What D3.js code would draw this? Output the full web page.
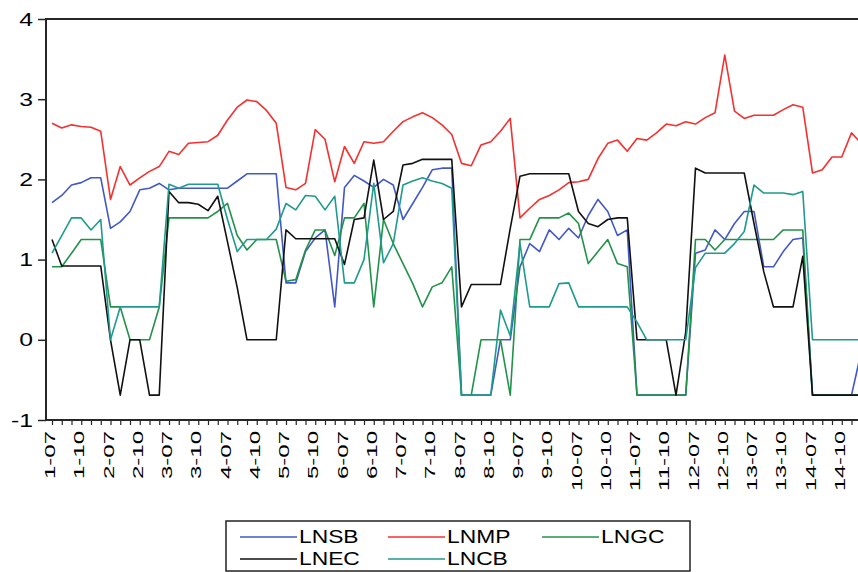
<!DOCTYPE html>
<html>
<head>
<meta charset="utf-8">
<script src="https://cdn.jsdelivr.net/npm/d3@7"></script>
<style>
  body { margin: 0; background: #fff; }
  text { font-family: "Liberation Sans", Arial, sans-serif; fill: #000; }
</style>
</head>
<body>
<div id="chart"></div>
<script>
const width = 858;
const height = 572;

// observation labels: day-hour, six hours a day
const days = d3.range(1, 15);
const hours = ["07", "08", "09", "10", "11", "12"];
const labelHours = ["07", "10"];
const yTicks = [-1, 0, 1, 2, 3, 4];

const LNSB = [1.71, 1.80, 1.93, 1.96, 2.02, 2.02, 1.39, 1.47, 1.60, 1.87, 1.89, 1.95,
  1.87, 1.89, 1.89, 1.89, 1.89, 1.89, 1.89, 1.98, 2.07, 2.07, 2.07, 2.07,
  0.71, 0.71, 1.10, 1.27, 1.37, 0.41, 1.90, 2.05, 1.98, 1.90, 2.00, 1.93,
  1.50, 1.70, 1.90, 2.12, 2.14, 2.14, -0.69, -0.69, -0.69, -0.69, 0, 0,
  0.91, 1.20, 1.10, 1.37, 1.25, 1.39, 1.27, 1.55, 1.75, 1.60, 1.30, 1.37,
  -0.69, -0.69, -0.69, -0.69, -0.69, -0.69, 1.08, 1.12, 1.37, 1.25, 1.45, 1.60,
  1.60, 0.91, 0.91, 1.10, 1.25, 1.27, -0.69, -0.69, -0.69, -0.69, -0.69, -0.15];
const LNMP = [2.70, 2.64, 2.68, 2.66, 2.65, 2.60, 1.75, 2.16, 1.93, 2.02, 2.10, 2.16,
  2.35, 2.31, 2.45, 2.46, 2.47, 2.55, 2.74, 2.90, 2.99, 2.97, 2.86, 2.70,
  1.90, 1.87, 1.95, 2.62, 2.50, 1.97, 2.41, 2.20, 2.47, 2.45, 2.47, 2.60,
  2.72, 2.78, 2.83, 2.77, 2.68, 2.56, 2.20, 2.17, 2.43, 2.47, 2.60, 2.76,
  1.52, 1.64, 1.75, 1.80, 1.87, 1.96, 1.97, 2.00, 2.26, 2.45, 2.49, 2.35,
  2.51, 2.49, 2.58, 2.69, 2.67, 2.72, 2.69, 2.77, 2.83, 3.55, 2.85, 2.76,
  2.80, 2.80, 2.80, 2.87, 2.93, 2.90, 2.08, 2.12, 2.28, 2.28, 2.58, 2.45];
const LNGC = [0.91, 0.91, 1.08, 1.25, 1.25, 1.25, 0.41, 0.41, 0, 0, 0, 0.41,
  1.52, 1.52, 1.52, 1.52, 1.52, 1.60, 1.70, 1.30, 1.12, 1.25, 1.25, 1.25,
  0.73, 0.75, 1.12, 1.37, 1.37, 1.05, 1.52, 1.52, 1.70, 0.41, 1.50, 1.20,
  0.95, 0.70, 0.41, 0.66, 0.71, 0.91, -0.69, -0.69, 0, 0, 0, -0.69,
  1.25, 1.25, 1.52, 1.52, 1.52, 1.58, 1.45, 0.95, 1.10, 1.25, 0.95, 0.91,
  -0.69, -0.69, -0.69, -0.69, -0.69, -0.69, 1.25, 1.25, 1.12, 1.25, 1.25, 1.25,
  1.25, 1.25, 1.25, 1.37, 1.37, 1.37, -0.69, -0.69, -0.69, -0.69, -0.69, -0.69];
const LNEC = [1.25, 0.92, 0.92, 0.92, 0.92, 0.92, 0, -0.69, 0, 0, -0.69, -0.69,
  1.85, 1.71, 1.71, 1.69, 1.61, 1.79, 1.22, 0.65, 0, 0, 0, 0,
  1.37, 1.26, 1.26, 1.26, 1.26, 1.26, 0.94, 1.50, 1.52, 2.24, 1.50, 1.60,
  2.18, 2.20, 2.25, 2.25, 2.25, 2.25, 0.41, 0.69, 0.69, 0.69, 0.69, 1.39,
  2.04, 2.07, 2.07, 2.07, 2.07, 2.07, 1.60, 1.45, 1.41, 1.50, 1.52, 1.52,
  0, 0, 0, 0, -0.69, 0.10, 2.14, 2.08, 2.08, 2.08, 2.08, 2.08,
  1.45, 0.85, 0.41, 0.41, 0.41, 1.04, -0.69, -0.69, -0.69, -0.69, -0.69, -0.69];
const LNCB = [1.08, 1.30, 1.52, 1.52, 1.37, 1.50, 0, 0.41, 0.41, 0.41, 0.41, 0.41,
  1.94, 1.89, 1.94, 1.94, 1.94, 1.94, 1.50, 1.10, 1.25, 1.25, 1.25, 1.38,
  1.70, 1.62, 1.80, 1.79, 1.62, 1.79, 0.71, 0.71, 1.00, 1.95, 0.96, 1.20,
  1.93, 1.98, 2.02, 1.98, 1.95, 1.89, -0.69, -0.69, -0.69, -0.69, 0.37, 0.05,
  1.20, 0.41, 0.41, 0.41, 0.70, 0.71, 0.41, 0.41, 0.41, 0.41, 0.41, 0.41,
  0.22, 0, 0, 0, 0, 0, 0.90, 1.08, 1.08, 1.08, 1.20, 1.35,
  1.93, 1.83, 1.83, 1.83, 1.81, 1.85, 0, 0, 0, 0, 0, 0];

const names = ["LNSB", "LNMP", "LNGC", "LNEC", "LNCB"];
const values = [LNSB, LNMP, LNGC, LNEC, LNCB];
const colors = ["#4258c6", "#f5302f", "#22924a", "#111111", "#1f9a8e"];

const obsLabels = days.flatMap((d) => hours.map((h) => `${d}-${h}`));

const svg = d3
  .select("#chart")
  .append("svg")
  .attr("width", width)
  .attr("height", height);

const x = d3.scaleLinear().domain([0, obsLabels.length - 1]).range([52, 861.25]);
const y = d3.scaleLinear().domain([-1, 4]).range([420, 19]);

// series lines
const line = d3
  .line()
  .x((d, i) => x(i))
  .y((d) => y(d));

svg
  .append("g")
  .selectAll("path")
  .data(values)
  .enter()
  .append("path")
  .attr("d", line)
  .attr("fill", "none")
  .attr("stroke", (d, i) => colors[i])
  .attr("stroke-width", 1.6)
  .attr("stroke-linejoin", "round");

// frame (right side runs off the picture)
svg
  .append("rect")
  .attr("x", 46)
  .attr("y", 19)
  .attr("width", 830)
  .attr("height", 401)
  .attr("fill", "none")
  .attr("stroke", "#262626")
  .attr("stroke-width", 2);

// y axis
const yAxis = svg
  .append("g")
  .attr("transform", "translate(46,0)")
  .call(d3.axisLeft(y).tickValues(yTicks).tickSize(8).tickPadding(5).tickFormat((d) => String(d)));
yAxis.select(".domain").remove();
yAxis.selectAll("line").attr("stroke", "#262626").attr("stroke-width", 1.5);
yAxis
  .selectAll("text")
  .style("font-size", "19px")
  .style("font-family", "Liberation Sans, Arial, sans-serif")
  .each(function () {
    const w = this.getComputedTextLength();
    d3.select(this).attr("textLength", w * 1.3).attr("lengthAdjust", "spacingAndGlyphs");
  });

// x axis: a tick per observation, labels every third one
const xAxis = svg
  .append("g")
  .attr("transform", "translate(0,420)")
  .call(d3.axisBottom(x).tickValues(d3.range(obsLabels.length)).tickSize(5).tickFormat(""));
xAxis.select(".domain").remove();
xAxis.selectAll("line").attr("stroke", "#262626").attr("stroke-width", 1.2);

svg
  .append("g")
  .selectAll("text")
  .data(obsLabels.map((l, i) => ({ l, i })).filter((d) => labelHours.includes(d.l.split("-")[1])))
  .enter()
  .append("text")
  .attr("transform", (d) => `translate(${x(d.i) - 2},431) rotate(-90)`)
  .attr("text-anchor", "end")
  .attr("dy", "0.36em")
  .attr("textLength", (d) => d.l.length * 12)
  .attr("lengthAdjust", "spacingAndGlyphs")
  .style("font-size", "14px")
  .text((d) => d.l);

// legend
const legendPos = [
  [240, 543], [388, 543], [542, 543],
  [240, 565], [388, 565]
];
svg
  .append("rect")
  .attr("x", 226)
  .attr("y", 521)
  .attr("width", 464)
  .attr("height", 50)
  .attr("fill", "#fff")
  .attr("stroke", "#222")
  .attr("stroke-width", 1.5);

const item = svg
  .append("g")
  .selectAll("g")
  .data(names)
  .enter()
  .append("g")
  .attr("transform", (d, i) => `translate(${legendPos[i][0]},${legendPos[i][1]})`);
item
  .append("line")
  .attr("x1", 0)
  .attr("x2", 57)
  .attr("y1", -6)
  .attr("y2", -6)
  .attr("stroke", (d, i) => colors[i])
  .attr("stroke-width", 1.6);
item
  .append("text")
  .attr("x", 59)
  .attr("y", 0)
  .style("font-size", "19px")
  .text((d) => d)
  .each(function () {
    const w = this.getComputedTextLength();
    d3.select(this).attr("textLength", w * 1.2).attr("lengthAdjust", "spacingAndGlyphs");
  });
</script>
</body>
</html>
